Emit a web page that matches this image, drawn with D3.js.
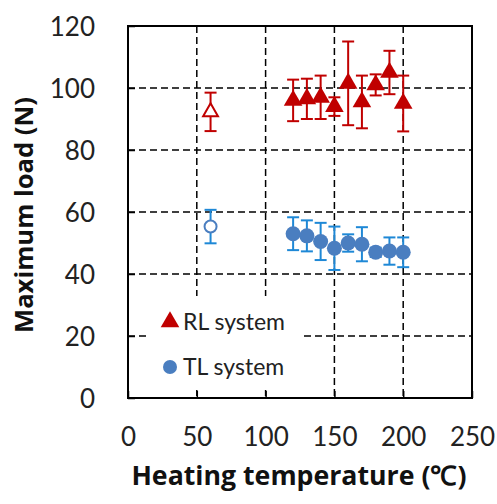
<!DOCTYPE html>
<html><head><meta charset="utf-8">
<script src="https://cdn.jsdelivr.net/npm/d3@7"></script>
<style>body{margin:0;background:#fff}</style>
</head><body>
<script>
const temps = [120,130,140,150,160,170,180,190,200];
const rlMean = [96,96.5,97,94,101.5,95.5,101,105,95];
const rlErr  = [6.7,6.5,7,3,13.5,8.5,3.4,7,9];
const tlMean = [53,52.3,50.5,48.3,50,49.6,47,47.4,47];
const tlErr  = [5.3,5,6,7,2.8,5.5,1.5,4.4,4.8];
const refTemp = [60];
const rlRefMean = [92.3], rlRefErr = [6.2];
const tlRefMean = [55.3], tlRefErr = [5.4];
const xTicks = [0,50,100,150,200,250];
const yTicks = [0,20,40,60,80,100,120];
const legendLabels = ["RL system","TL system"];

const W=497,H=504;
const m={l:128,r:472,t:26,b:398};
const svg=d3.select("body").append("svg").attr("width",W).attr("height",H);
const x=d3.scaleLinear().domain([0,250]).range([m.l,m.r]);
const y=d3.scaleLinear().domain([0,120]).range([m.b,m.t]);
const font="Lato, 'Open Sans', sans-serif";
const titleFont="'Open Sans', Lato, sans-serif";
const red="#C00000", blue="#4A7EC0", blueErr="#1E88D6";

function fit(sel,target){
 const n=sel.node(); const fs=+sel.attr("font-size");
 const w=n.getComputedTextLength(); if(w>0) sel.attr("font-size",fs*target/w);
 return sel;
}

// grid
const g=svg.append("g");
g.selectAll(".gx").data(xTicks.slice(1,-1)).join("line")
 .attr("x1",d=>x(d)).attr("x2",d=>x(d)).attr("y1",m.t).attr("y2",m.b)
 .attr("stroke","#000").attr("stroke-width",1.5).attr("stroke-dasharray","7,4");
g.selectAll(".gy").data(yTicks.slice(1,-1)).join("line")
 .attr("y1",d=>y(d)).attr("y2",d=>y(d)).attr("x1",m.l).attr("x2",m.r)
 .attr("stroke","#000").attr("stroke-width",1.5).attr("stroke-dasharray","7,4");

// legend box (white, covers grid)
svg.append("rect").attr("x",150).attr("y",296).attr("width",150).attr("height",94).attr("fill","#fff");

// axes with inner ticks
const xa=svg.append("g").attr("transform",`translate(0,${m.b})`)
 .call(d3.axisBottom(x).tickValues(xTicks).tickSize(-7).tickPadding(24).tickSizeOuter(0));
const ya=svg.append("g").attr("transform",`translate(${m.l},0)`)
 .call(d3.axisLeft(y).tickValues(yTicks).tickSize(-7).tickPadding(33).tickSizeOuter(0));
[xa,ya].forEach(a=>{
 a.select(".domain").remove();
 a.selectAll("line").attr("stroke","#000").attr("stroke-width",1.5);
 a.selectAll("text").attr("font-family",font).attr("font-size",26).attr("fill","#222");
});
xa.selectAll("text").attr("y",39).attr("dy","0.36em");
ya.selectAll("text").attr("dy","0.36em");
// border
svg.append("rect").attr("x",m.l).attr("y",m.t).attr("width",m.r-m.l).attr("height",m.b-m.t)
 .attr("fill","none").attr("stroke","#000").attr("stroke-width",2);

function errBars(xs,ms,es,col){
 const gg=svg.append("g").attr("stroke",col).attr("stroke-width",2).attr("fill","none");
 xs.forEach((t,i)=>{
  const cx=x(t), y1=y(ms[i]+es[i]), y2=y(ms[i]-es[i]);
  gg.append("line").attr("x1",cx).attr("x2",cx).attr("y1",y1).attr("y2",y2);
  gg.append("line").attr("x1",cx-6).attr("x2",cx+6).attr("y1",y1).attr("y2",y1);
  gg.append("line").attr("x1",cx-6).attr("x2",cx+6).attr("y1",y2).attr("y2",y2);
 });
}
const tri=d3.symbol().type(d3.symbolTriangle).size(150);
const triSmall=d3.symbol().type(d3.symbolTriangle).size(95);

errBars(refTemp,rlRefMean,rlRefErr,red);
errBars(temps,rlMean,rlErr,red);
errBars(refTemp,tlRefMean,tlRefErr,blueErr);
errBars(temps,tlMean,tlErr,blueErr);

svg.selectAll(".rl").data(temps).join("path")
 .attr("d",tri).attr("transform",(d,i)=>`translate(${x(d)},${y(rlMean[i])})`).attr("fill",red);
svg.selectAll(".rlr").data(refTemp).join("path")
 .attr("d",triSmall).attr("transform",(d,i)=>`translate(${x(d)},${y(rlRefMean[i])})`)
 .attr("fill","#fff").attr("stroke",red).attr("stroke-width",2);
svg.selectAll(".tl").data(temps).join("circle")
 .attr("cx",d=>x(d)).attr("cy",(d,i)=>y(tlMean[i])).attr("r",7.5).attr("fill",blue);
svg.selectAll(".tlr").data(refTemp).join("circle")
 .attr("cx",d=>x(d)).attr("cy",(d,i)=>y(tlRefMean[i])).attr("r",6)
 .attr("fill","#fff").attr("stroke",blue).attr("stroke-width",2);

// legend
svg.append("path").attr("d",tri).attr("transform","translate(170,322)").attr("fill",red);
svg.append("circle").attr("cx",170).attr("cy",367).attr("r",7).attr("fill",blue);
svg.selectAll(".lt").data(legendLabels).join("text")
 .attr("x",183).attr("y",(d,i)=>322+i*45).attr("dy","0.36em")
 .attr("font-family",font).attr("font-size",23).attr("fill","#222").text(d=>d);

// titles
const xt=svg.append("text").attr("x",299).attr("y",485).attr("text-anchor","middle")
 .attr("font-family",titleFont).attr("font-weight","bold").attr("font-size",24).attr("fill","#111")
 .text("Heating temperature (℃)");
fit(xt,335);
const yt=svg.append("text").attr("transform","translate(33,215) rotate(-90)")
 .attr("text-anchor","middle").attr("font-family",titleFont).attr("font-weight","bold")
 .attr("font-size",24).attr("fill","#111").text("Maximum load (N)");
fit(yt,236);
</script>
</body></html>
